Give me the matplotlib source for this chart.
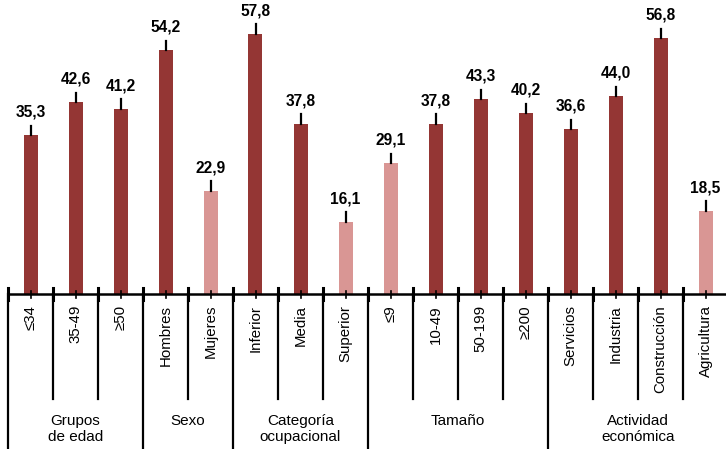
import matplotlib.pyplot as plt
from matplotlib import font_manager

plt.rcParams['font.family'] = ['Liberation Sans', 'DejaVu Sans']

categories = ["≤34", "35-49", "≥50", "Hombres", "Mujeres", "Inferior", "Media",
              "Superior", "≤9", "10-49", "50-199", "≥200", "Servicios",
              "Industria", "Construcción", "Agricultura"]
values = [35.3, 42.6, 41.2, 54.2, 22.9, 57.8, 37.8, 16.1,
          29.1, 37.8, 43.3, 40.2, 36.6, 44.0, 56.8, 18.5]
highlight = [False, False, False, False, True, False, False, True,
             True, False, False, False, False, False, False, True]
groups = ["Grupos\nde edad", "Sexo", "Categoría\nocupacional", "Tamaño",
          "Actividad\neconómica"]
group_sizes = [3, 2, 3, 4, 4]

dark = "#943634"
light = "#D99694"

# pick the regular-width bold face (avoid "Liberation Sans Narrow")
bold_file = None
for f in font_manager.fontManager.ttflist:
    if f.name == "Liberation Sans" and f.weight == 700 and f.style == "normal" \
            and "Narrow" not in f.fname:
        bold_file = f.fname
        break
if bold_file:
    bold_font = font_manager.FontProperties(fname=bold_file, size=11.2)
else:
    bold_font = font_manager.FontProperties(family="DejaVu Sans", weight="bold", size=10.5)

fig = plt.figure(figsize=(7.26, 4.49), dpi=100)
ax = fig.add_axes([0, 0, 1, 1])
ax.axis("off")

# pixel-based scale: 45 px per category, 4.5 px per unit, zero line at 294 px from top
ax.set_xlim(-0.5 - 8 / 45, 15.5 - 2 / 45)
ax.set_ylim(-155 / 4.5, (449 - 155) / 4.5)

n = len(values)
xs = list(range(n))
colors = [light if h else dark for h in highlight]
ax.bar(xs, values, width=14 / 45, color=colors, zorder=2)

# leader ticks + value labels
for x, v in zip(xs, values):
    ax.plot([x, x], [v, v + 9.5 / 4.5], color="black", lw=1.6, zorder=3)
    ax.text(x, v + 18.5 / 4.5, f"{v:.1f}".replace(".", ","), ha="center",
            va="baseline", fontproperties=bold_font)

# baseline
ax.plot([-0.5, 15.6], [0, 0], color="black", lw=1.8, zorder=4, clip_on=False)

# small ticks at bar centers
for x in xs:
    ax.plot([x, x], [-3.5 / 4.5, 3.5 / 4.5], color="black", lw=1.2, zorder=4)

# category labels
for x, lab in zip(xs, categories):
    ax.text(x, -11 / 4.5, lab, rotation=90, ha="center", va="top", fontsize=10.8)

# dividers
group_edges = [-0.5]
for s in group_sizes:
    group_edges.append(group_edges[-1] + s)
for b in range(n + 1):
    xb = b - 0.5
    ax.plot([xb, xb], [-6 / 4.5, 6 / 4.5], color="black", lw=2.2, zorder=4)
    if xb in group_edges:
        ax.plot([xb, xb], [0, -160 / 4.5], color="black", lw=1.6, zorder=4)
    else:
        ax.plot([xb, xb], [0, -105 / 4.5], color="black", lw=1.6, zorder=4)

# group labels
for g, lo, hi in zip(groups, group_edges[:-1], group_edges[1:]):
    ax.text((lo + hi) / 2, -120 / 4.5, g, ha="center", va="top", fontsize=11,
            linespacing=1.15)

plt.savefig("out.png", dpi=100)
